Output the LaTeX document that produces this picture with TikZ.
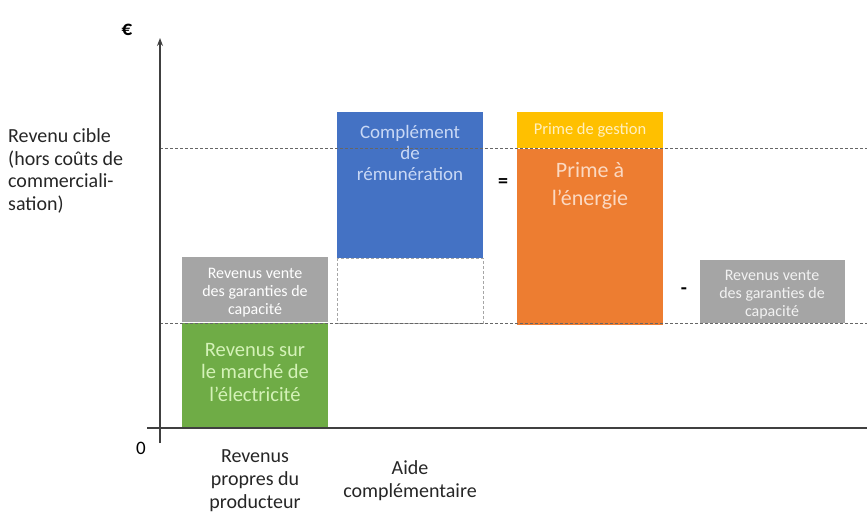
\documentclass[tikz,border=0pt]{standalone}
\usepackage{fontspec}
\setmainfont{Carlito}
\usetikzlibrary{arrows.meta}
\definecolor{cgreen}{HTML}{6FAC46}
\definecolor{cblue}{HTML}{4472C4}
\definecolor{corange}{HTML}{ED7D31}
\definecolor{cyellow}{HTML}{FFC000}
\definecolor{cgray}{HTML}{A5A5A5}
\definecolor{tgreen}{HTML}{D4F2B8}
\definecolor{tblue}{HTML}{C9D8F5}
\definecolor{torange}{HTML}{FBD9C2}
\definecolor{tyellow}{HTML}{FFF0C0}
\definecolor{axisc}{HTML}{404040}
\begin{document}
\begin{tikzpicture}[x=1pt,y=-1pt,
  dashln/.style={draw=gray!80!black,dashed,dash pattern=on 3pt off 2pt,line width=0.7pt},
  lbl/.style={align=center,font=\fontsize{20}{23}\selectfont,text=black!85},
  graytxt/.style={align=center,font=\fontsize{16}{18}\selectfont},
  sym/.style={font=\fontsize{20}{20}\selectfont\bfseries}]
\useasboundingbox (0,0) rectangle (867,514);
% boxes
\fill[cgray] (182,257) rectangle (328,322);
\fill[cgreen] (182,323) rectangle (328,428);
\fill[cblue] (337,112) rectangle (483,258);
\draw[dashln,draw=gray!70] (337,258) rectangle (483,323);
\fill[cyellow] (517,112) rectangle (663,148);
\fill[corange] (517,149) rectangle (663,325);
\fill[cgray] (700,260) rectangle (845,323);
% box texts
\node[graytxt,text=white] (g1t) at (255,293) {Revenus vente\\des garanties de\\capacité};
\node[align=center,text=tgreen,font=\fontsize{20.5}{22.5}\selectfont] (grt) at (255,372) {Revenus sur\\le marché de\\l’électricité};
\node[align=center,text=tblue,font=\fontsize{19}{21}\selectfont] (blt) at (410,153) {Complément\\de\\rémunération};
\node[text=tyellow,font=\fontsize{16.5}{16.5}\selectfont] (yt) at (590,130) {Prime de gestion};
\node[align=center,text=torange,font=\fontsize{22}{28}\selectfont] (ort) at (590,186) {Prime à\\l’énergie};
\node[graytxt,text=white!90!gray] (g2t) at (772,295) {Revenus vente\\des garanties de\\capacité};
% dashed reference lines
\draw[dashln] (160,148) -- (867,148);
\draw[dashln] (160,323) -- (867,323);
% axes
\coordinate (ytop) at (160,38);
\coordinate (xend) at (867,428);
\draw[axisc,line width=1.2pt,-{Stealth[length=8pt,width=6pt]}] (160,443) -- (ytop);
\draw[axisc,line width=1.2pt] (147,428) -- (xend);
\node[font=\fontsize{21}{21}\selectfont\bfseries] (euro) at (127,30) {€};
\node[font=\fontsize{19}{19}\selectfont] (zero) at (141,448) {0};
% left label
\node[anchor=west,align=left,inner sep=0pt,font=\fontsize{20}{22.5}\selectfont,text=black!85] (cible) at (8,171) {Revenu cible\\(hors coûts de\\commerciali-\\sation)};
% symbols
\node[sym] (eq) at (503,183) {=};
\node[sym] (minus) at (684,291) {-};
% bottom labels
\node[lbl] (rp) at (255,481) {Revenus\\propres du\\producteur};
\node[lbl] (ac) at (410,481) {Aide\\complémentaire};
\end{tikzpicture}
\end{document}
